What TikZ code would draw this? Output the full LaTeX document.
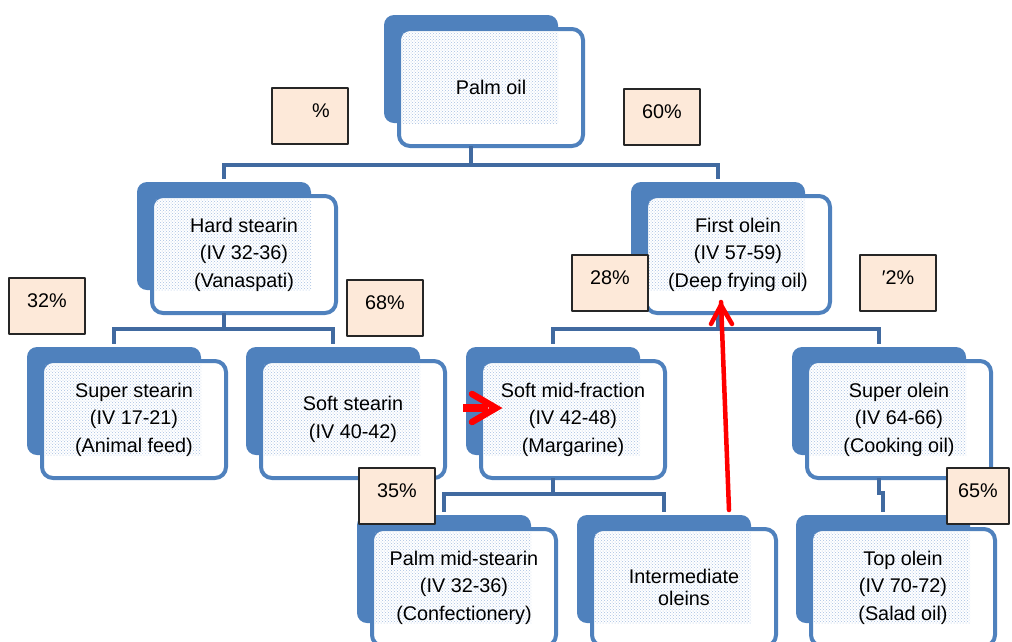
\documentclass[tikz,border=0pt]{standalone}
\usepackage{fontspec}
\setmainfont{Liberation Sans}
\usetikzlibrary{arrows.meta,patterns}

\definecolor{boxblue}{RGB}{79,129,189}
\definecolor{linkblue}{RGB}{65,106,160}
\definecolor{dotblue}{RGB}{168,192,226}
\definecolor{peach}{RGB}{253,233,217}

\begin{document}
\begin{tikzpicture}[
  x=1pt,
  y=-1pt,
  line cap=round,
  line join=round,
  backbox/.style={fill=boxblue,rounded corners=10pt,minimum width=174pt,
    minimum height=108pt,inner sep=0pt,outer sep=0pt,anchor=north west},
  frontbox/.style={draw=boxblue,fill=white,line width=4pt,rounded corners=11pt,
    minimum width=184pt,minimum height=117pt,inner sep=0pt,outer sep=0pt,anchor=north west},
  dotfill/.style={pattern=crosshatch dots,pattern color=dotblue},
  boxtext/.style={font=\fontsize{19.8}{27.5}\selectfont,align=center,inner sep=0pt},
  link/.style={draw=linkblue,line width=4.5pt,line cap=butt,line join=miter,shorten >=3pt},
  pct/.style={draw=black!85,fill=peach,line width=1.5pt,minimum width=76pt,
    minimum height=56pt,inner sep=0pt,text depth=10pt,font=\fontsize{19.8}{24}\selectfont},
  redmark/.style={draw=red,line width=4.5pt,line cap=round,line join=miter}
]

  \useasboundingbox (0,0) rectangle (1012,641);
  \clip (0,0) rectangle (1012,641);

  % Fractions: blue back plate, white front card, dotted shade, text
  \foreach \id/\bx/\by/\txt in {
      palm/384/15/{Palm oil},
      hard/137/182/{Hard stearin\\(IV 32-36)\\(Vanaspati)},
      first/631/182/{First olein\\(IV 57-59)\\(Deep frying oil)},
      superst/27/347/{Super stearin\\(IV 17-21)\\(Animal feed)},
      softst/246/347/{Soft stearin\\(IV 40-42)},
      softmid/466/347/{Soft mid-fraction\\(IV 42-48)\\(Margarine)},
      superol/792/347/{Super olein\\(IV 64-66)\\(Cooking oil)},
      midst/357/515/{Palm mid-stearin\\(IV 32-36)\\(Confectionery)},
      inter/577/515/{Intermediate\\[-5pt]oleins},
      topol/796/515/{Top olein\\(IV 70-72)\\(Salad oil)}} {
    \node[backbox] (\id-back) at (\bx,\by) {};
    \node[frontbox] (\id) at (\bx+15,\by+14) {};
    \fill[dotfill] ([shift={(3,3)}]\id.north west) rectangle (\id-back.south east);
    \node[boxtext] (\id-text) at (\id.center) {\txt};
  }

  % Palm oil splits into stearin and olein
  \draw[link] (palm-back |- palm.south) -- ++(0,19) -| (hard-back.north);
  \draw[link] (palm-back |- palm.south) -- ++(0,19) -| (first-back.north);

  % Hard stearin
  \draw[link] (hard-back |- hard.south) -- ++(0,16) -| (superst-back.north);
  \draw[link] (hard-back |- hard.south) -- ++(0,16) -| (softst-back.north);

  % First olein
  \draw[link] (first-back |- first.south) -- ++(0,16) -| (softmid-back.north);
  \draw[link] (first-back |- first.south) -- ++(0,16) -| (superol-back.north);

  % Soft mid-fraction
  \draw[link] (softmid-back |- softmid.south) -- ++(0,16) -| (midst-back.north);
  \draw[link] (softmid-back |- softmid.south) -- ++(0,16) -| (inter-back.north);

  % Super olein has one product only
  \draw[link] (superol-back |- superol.south) -- ++(0,15) -| (topol-back.north);

  % Yields
  \node[pct] (yield-a) at (310,116) {\phantom{40}\%};
  \node[pct] (yield-b) at (662,117) {60\%};
  \node[pct] (yield-c) at (47,306) {32\%};
  \node[pct] (yield-d) at (385,308) {68\%};
  \node[pct] (yield-e) at (610,283) {28\%};
  \node[pct] (yield-f) at (898,283) {′2\%};
  \node[pct] (yield-g) at (397,496) {35\%};
  \node[pct,minimum width=62pt] (yield-h) at (978,496) {65\%};

  % Red marks, heads drawn as open barbs
  \coordinate (cue-tail) at (463,408);
  \coordinate (cue-tip) at (496,408);
  \draw[redmark,line width=8pt,line cap=butt] (cue-tail) -- ([xshift=-8]cue-tip);
  \draw[redmark,line width=6.5pt] ([shift={(-24,-14)}]cue-tip) -- (cue-tip)
    -- ([shift={(-24,14)}]cue-tip);
  \coordinate (fix-tail) at (729,510);
  \coordinate (fix-tip) at (721,305);
  \draw[redmark] (fix-tail) -- ([yshift=3]fix-tip);
  \draw[redmark] ([shift={(-10,19)}]fix-tip) -- (fix-tip) -- ([shift={(11,19)}]fix-tip);

\end{tikzpicture}
\end{document}
